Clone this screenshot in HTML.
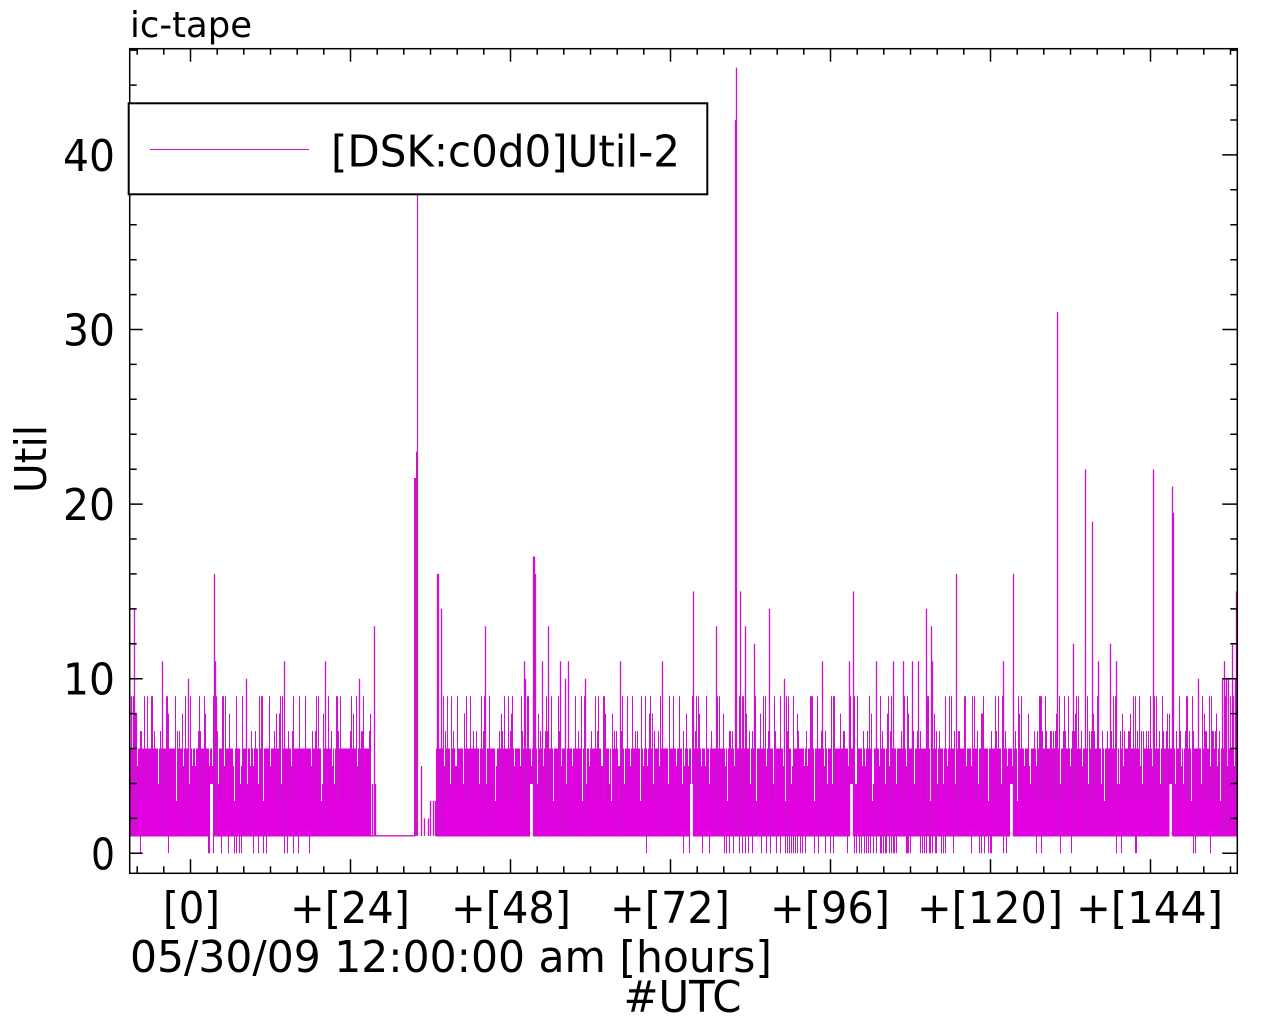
<!DOCTYPE html>
<html>
<head>
<meta charset="utf-8">
<style>
html,body{margin:0;padding:0;background:#fff;}
svg{display:block;}
text{font-family:"DejaVu Sans","Liberation Sans",sans-serif;fill:#000;}
</style>
</head>
<body>
<svg width="1280" height="1024" viewBox="0 0 1280 1024" xmlns="http://www.w3.org/2000/svg">
<rect width="1280" height="1024" fill="#fff"/>
<defs>
<pattern id="W1" patternUnits="userSpaceOnUse" x="0" y="0" width="29" height="1024">
<rect x="2" y="747" width="1" height="54" fill="#fff"/>
<rect x="9" y="747" width="1" height="19" fill="#fff"/>
<rect x="15" y="747" width="1" height="37" fill="#fff"/>
<rect x="21" y="747" width="1" height="19" fill="#fff"/>
</pattern>
<pattern id="W2" patternUnits="userSpaceOnUse" x="0" y="0" width="41" height="1024">
<rect x="4" y="747" width="1" height="19" fill="#fff"/>
<rect x="12" y="747" width="1" height="37" fill="#fff"/>
<rect x="28" y="747" width="1" height="19" fill="#fff"/>
<rect x="35" y="747" width="1" height="37" fill="#fff"/>
</pattern>
<pattern id="L1" patternUnits="userSpaceOnUse" x="0" y="0" width="23" height="1024">
<rect x="6" y="696.2" width="1" height="104.8" fill="#d010d0"/>
<rect x="16" y="731.1" width="1" height="69.9" fill="#d010d0"/>
</pattern>
<pattern id="L2" patternUnits="userSpaceOnUse" x="0" y="0" width="37" height="1024">
<rect x="3" y="696.2" width="1" height="104.8" fill="#d010d0"/>
<rect x="20" y="713.6" width="1" height="87.4" fill="#d010d0"/>
<rect x="29" y="731.1" width="1" height="69.9" fill="#d010d0"/>
</pattern>
<pattern id="L3" patternUnits="userSpaceOnUse" x="0" y="0" width="47" height="1024">
<rect x="11" y="696.2" width="1" height="104.8" fill="#d010d0"/>
<rect x="34" y="696.2" width="1" height="104.8" fill="#d010d0"/>
<rect x="41" y="713.6" width="1" height="87.4" fill="#d010d0"/>
</pattern>
<pattern id="L5" patternUnits="userSpaceOnUse" x="0" y="0" width="19" height="1024">
<rect x="8" y="731.1" width="1" height="69.9" fill="#d010d0"/>
<rect x="14" y="696.2" width="1" height="104.8" fill="#d010d0"/>
</pattern>
<pattern id="L4" patternUnits="userSpaceOnUse" x="0" y="0" width="13" height="1024">
<rect x="2" y="731.1" width="1" height="69.9" fill="#d010d0"/>
<rect x="6" y="731.1" width="1" height="69.9" fill="#d010d0"/>
<rect x="10" y="731.1" width="1" height="69.9" fill="#d010d0"/>
</pattern>
</defs>

<!-- base band -->
<rect x="130" y="748.5" width="241" height="88" fill="#e000e0"/>
<rect x="436" y="748.5" width="801" height="88" fill="#e000e0"/>

<!-- white gaps inside band -->
<rect x="130" y="740" width="241" height="70" fill="url(#W1)"/>
<rect x="130" y="740" width="241" height="70" fill="url(#W2)"/>
<rect x="436" y="740" width="801" height="70" fill="url(#W1)"/>
<rect x="436" y="740" width="801" height="70" fill="url(#W2)"/>

<!-- lines above band -->
<rect x="130" y="690" width="241" height="112" fill="url(#L1)"/>
<rect x="130" y="690" width="241" height="112" fill="url(#L2)"/>
<rect x="130" y="690" width="241" height="112" fill="url(#L3)"/>
<rect x="130" y="690" width="241" height="112" fill="url(#L5)"/>
<rect x="437" y="690" width="800" height="112" fill="url(#L1)"/>
<rect x="437" y="690" width="800" height="112" fill="url(#L2)"/>
<rect x="437" y="690" width="800" height="112" fill="url(#L3)"/>
<rect x="437" y="690" width="800" height="112" fill="url(#L5)"/>
<rect x="1035" y="690" width="202" height="112" fill="url(#L4)"/>

<!-- lines down to 0 -->
<path fill="none" stroke="#d010d0" stroke-width="1" d="M140.5 836V853.3M168.5 836V853.3M208.5 836V853.3M209.5 836V853.3M213.5 836V853.3M221.5 836V853.3M228.5 836V853.3M234.5 836V853.3M236.5 836V853.3M239.5 836V853.3M241.5 836V853.3M253.5 836V853.3M258.5 836V853.3M263.5 836V853.3M266.5 836V853.3M284.5 836V853.3M287.5 836V853.3M293.5 836V853.3M298.5 836V853.3M309.5 836V853.3
M646.5 836V853.3M683.5 836V853.3M689.5 836V853.3M702.5 836V853.3M709.5 836V853.3M724.5 836V853.3M726.5 836V853.3M729.5 836V853.3M733.5 836V853.3M739.5 836V853.3M742.5 836V853.3M745.5 836V853.3M748.5 836V853.3M752.5 836V853.3M761.5 836V853.3M766.5 836V853.3M770.5 836V853.3M776.5 836V853.3M780.5 836V853.3M785.5 836V853.3M787.5 836V853.3M789.5 836V853.3M791.5 836V853.3M793.5 836V853.3M795.5 836V853.3M797.5 836V853.3M800.5 836V853.3M802.5 836V853.3M805.5 836V853.3M814.5 836V853.3M818.5 836V853.3M825.5 836V853.3M830.5 836V853.3M833.5 836V853.3M847.5 836V853.3M854.5 836V853.3M856.5 836V853.3M859.5 836V853.3M861.5 836V853.3M864.5 836V853.3M866.5 836V853.3M868.5 836V853.3M870.5 836V853.3M873.5 836V853.3M876.5 836V853.3M880.5 836V853.3M881.5 836V853.3M883.5 836V853.3M885.5 836V853.3M886.5 836V853.3M889.5 836V853.3M891.5 836V853.3M893.5 836V853.3M894.5 836V853.3M896.5 836V853.3M906.5 836V853.3M907.5 836V853.3M908.5 836V853.3M910.5 836V853.3M920.5 836V853.3M922.5 836V853.3M924.5 836V853.3M926.5 836V853.3M929.5 836V853.3M930.5 836V853.3M932.5 836V853.3M935.5 836V853.3M936.5 836V853.3M941.5 836V853.3M943.5 836V853.3M945.5 836V853.3M953.5 836V853.3M971.5 836V853.3M979.5 836V853.3M981.5 836V853.3M984.5 836V853.3M988.5 836V853.3M990.5 836V853.3M991.5 836V853.3M1003.5 836V853.3M1006.5 836V853.3M1036.5 836V853.3M1041.5 836V853.3M1060.5 836V853.3M1071.5 836V853.3M1116.5 836V853.3M1121.5 836V853.3M1135.5 836V853.3M1136.5 836V853.3M1193.5 836V853.3M1195.5 836V853.3M1210.5 836V853.3"/>

<!-- daily gaps -->
<rect x="210" y="784" width="3" height="53" fill="#fff"/>
<rect x="371" y="784" width="1.5" height="50" fill="#fff"/>
<rect x="530" y="784" width="3" height="53" fill="#fff"/>
<rect x="690" y="784" width="3" height="53" fill="#fff"/>
<rect x="850" y="784" width="3" height="53" fill="#fff"/>
<rect x="1010" y="784" width="3" height="53" fill="#fff"/>
<rect x="1169.5" y="784" width="3" height="53" fill="#fff"/>

<!-- flat low segment -->
<path d="M371 835.8H415" stroke="#d010d0" stroke-width="1.3" fill="none"/>

<!-- region of big spike -->
<rect x="414" y="478" width="2" height="358" fill="#d010d0"/>
<rect x="416" y="451.7" width="1.3" height="384" fill="#c818c8"/>
<path d="M417.5 836V190" stroke="#c020c0" stroke-width="1.2" fill="none"/>

<!-- explicit spikes -->
<path fill="none" stroke="#d010d0" stroke-width="1.3" d="M131.5 836V696.2M133.5 836V696.2M134.5 836V608.9M136.5 836V713.6
M162.5 836V661.2M188.5 836V678.7M214.5 836V573.9M215.5 836V661.2M216.5 836V696.2
M246.5 836V678.7M284.5 836V661.2M325.5 836V661.2M359.5 836V678.7
M372.5 836V784M374.5 836V626.3M375.5 836V784
M421.5 836V766M424.5 836V818.4M428.5 836V818.4M430.5 836V801M433.5 836V801M435.5 836V801
M437.5 836V573.9M438.5 836V573.9M441.5 836V608.9M485.5 836V626.3
M524.5 836V661.2M525.5 836V678.7M533.5 836V556.5M534.5 836V556.5M535.5 836V573.9
M542.5 836V661.2M548.5 836V626.3M560.5 836V661.2M565.5 836V678.7M568.5 836V661.2M585.5 836V678.7M620.5 836V661.2M662.5 836V661.2
M693.5 836V591.4M716.5 836V626.3M735.5 836V120M736.5 836V67.6M740.5 836V591.4M745.5 836V626.3M754.5 836V643.8M769.5 836V608.9M784.5 836V678.7
M822.5 836V661.2M849.5 836V661.2M853.5 836V591.4M876.5 836V661.2M893.5 836V661.2M903.5 836V661.2M912.5 836V661.2M918.5 836V661.2
M926.5 836V608.9M931.5 836V626.3M932.5 836V661.2M956.5 836V573.9M1003.5 836V661.2M1013.5 836V573.9
M1057.5 836V312M1073.5 836V643.8M1085.5 836V469.2M1092.5 836V521.6M1098.5 836V661.2M1110.5 836V643.8M1116.5 836V661.2
M1153.5 836V469.2M1172.5 836V486.6M1173.5 836V512.8M1198.5 836V678.7M1222.5 836V678.7M1224.5 836V661.2M1226.5 836V678.7M1228.5 836V678.7M1232.5 836V643.8M1235.5 836V678.7M1236.5 836V591.4"/>

<!-- frame -->
<rect x="129.7" y="48.7" width="1107.6" height="824.6" fill="none" stroke="#000" stroke-width="1.5"/>

<!-- y ticks left & right -->
<path fill="none" stroke="#000" stroke-width="1.5" d="
M129.7 853.3h13M129.7 678.7h13M129.7 504.1h13M129.7 329.5h13M129.7 154.9h13
M129.7 818.4h7M129.7 783.5h7M129.7 748.5h7M129.7 713.6h7M129.7 643.8h7M129.7 608.9h7M129.7 573.9h7M129.7 539h7M129.7 469.2h7M129.7 434.3h7M129.7 399.3h7M129.7 364.4h7M129.7 294.6h7M129.7 259.7h7M129.7 224.7h7M129.7 189.8h7M129.7 120h7M129.7 85.1h7M129.7 50.1h7
M1237.3 853.3h-15M1237.3 678.7h-15M1237.3 504.1h-15M1237.3 329.5h-15M1237.3 154.9h-15
M1237.3 818.4h-7M1237.3 783.5h-7M1237.3 748.5h-7M1237.3 713.6h-7M1237.3 643.8h-7M1237.3 608.9h-7M1237.3 573.9h-7M1237.3 539h-7M1237.3 469.2h-7M1237.3 434.3h-7M1237.3 399.3h-7M1237.3 364.4h-7M1237.3 294.6h-7M1237.3 259.7h-7M1237.3 224.7h-7M1237.3 189.8h-7M1237.3 120h-7M1237.3 85.1h-7M1237.3 50.1h-7"/>

<!-- x ticks bottom & top -->
<path fill="none" stroke="#000" stroke-width="1.5" d="
M190.5 873.3v-14M350.5 873.3v-14M510.5 873.3v-14M670.5 873.3v-14M830.5 873.3v-14M990.5 873.3v-14M1150.5 873.3v-14
M137.2 873.3v-7M163.8 873.3v-7M217.2 873.3v-7M243.8 873.3v-7M270.5 873.3v-7M297.2 873.3v-7M323.8 873.3v-7M377.2 873.3v-7M403.8 873.3v-7M430.5 873.3v-7M457.2 873.3v-7M483.8 873.3v-7M537.2 873.3v-7M563.8 873.3v-7M590.5 873.3v-7M617.2 873.3v-7M643.8 873.3v-7M697.2 873.3v-7M723.8 873.3v-7M750.5 873.3v-7M777.2 873.3v-7M803.8 873.3v-7M857.2 873.3v-7M883.8 873.3v-7M910.5 873.3v-7M937.2 873.3v-7M963.8 873.3v-7M1017.2 873.3v-7M1043.8 873.3v-7M1070.5 873.3v-7M1097.2 873.3v-7M1123.8 873.3v-7M1177.2 873.3v-7M1203.8 873.3v-7M1230.5 873.3v-7
M190.5 48.7v13M350.5 48.7v13M510.5 48.7v13M670.5 48.7v13M830.5 48.7v13M990.5 48.7v13M1150.5 48.7v13
M137.2 48.7v6M163.8 48.7v6M217.2 48.7v6M243.8 48.7v6M270.5 48.7v6M297.2 48.7v6M323.8 48.7v6M377.2 48.7v6M403.8 48.7v6M430.5 48.7v6M457.2 48.7v6M483.8 48.7v6M537.2 48.7v6M563.8 48.7v6M590.5 48.7v6M617.2 48.7v6M643.8 48.7v6M697.2 48.7v6M723.8 48.7v6M750.5 48.7v6M777.2 48.7v6M803.8 48.7v6M857.2 48.7v6M883.8 48.7v6M910.5 48.7v6M937.2 48.7v6M963.8 48.7v6M1017.2 48.7v6M1043.8 48.7v6M1070.5 48.7v6M1097.2 48.7v6M1123.8 48.7v6M1177.2 48.7v6M1203.8 48.7v6M1230.5 48.7v6"/>

<!-- legend -->
<rect x="128.7" y="103.3" width="578.6" height="91" fill="#fff" stroke="#000" stroke-width="2"/>
<line x1="150" y1="149.5" x2="309" y2="149.5" stroke="#d010d0" stroke-width="1"/>
<text x="331" y="166.7" font-size="44" textLength="349" lengthAdjust="spacingAndGlyphs">[DSK:c0d0]Util-2</text>

<!-- title -->
<text x="130" y="37" font-size="36" textLength="122" lengthAdjust="spacingAndGlyphs">ic-tape</text>

<!-- y tick labels -->
<text x="115" y="869.3" font-size="44" text-anchor="end" textLength="24" lengthAdjust="spacingAndGlyphs">0</text>
<text x="115" y="694.7" font-size="44" text-anchor="end" textLength="52" lengthAdjust="spacingAndGlyphs">10</text>
<text x="115" y="520.1" font-size="44" text-anchor="end" textLength="52" lengthAdjust="spacingAndGlyphs">20</text>
<text x="115" y="345.5" font-size="44" text-anchor="end" textLength="52" lengthAdjust="spacingAndGlyphs">30</text>
<text x="115" y="171" font-size="44" text-anchor="end" textLength="52" lengthAdjust="spacingAndGlyphs">40</text>

<!-- x tick labels -->
<text x="191.5" y="923" font-size="44" text-anchor="middle" textLength="57" lengthAdjust="spacingAndGlyphs">[0]</text>
<text x="350" y="923" font-size="44" text-anchor="middle" textLength="120" lengthAdjust="spacingAndGlyphs">+[24]</text>
<text x="511" y="923" font-size="44" text-anchor="middle" textLength="120" lengthAdjust="spacingAndGlyphs">+[48]</text>
<text x="670" y="923" font-size="44" text-anchor="middle" textLength="120" lengthAdjust="spacingAndGlyphs">+[72]</text>
<text x="830" y="923" font-size="44" text-anchor="middle" textLength="120" lengthAdjust="spacingAndGlyphs">+[96]</text>
<text x="990" y="923" font-size="44" text-anchor="middle" textLength="146" lengthAdjust="spacingAndGlyphs">+[120]</text>
<text x="1149.5" y="923" font-size="44" text-anchor="middle" textLength="147" lengthAdjust="spacingAndGlyphs">+[144]</text>

<!-- x axis labels -->
<text x="130" y="972" font-size="44" textLength="642" lengthAdjust="spacingAndGlyphs">05/30/09 12:00:00 am [hours]</text>
<text x="682.5" y="1012" font-size="44" text-anchor="middle" textLength="118" lengthAdjust="spacingAndGlyphs">#UTC</text>

<!-- y axis label -->
<text transform="translate(46,459) rotate(-90)" font-size="44" text-anchor="middle" textLength="68" lengthAdjust="spacingAndGlyphs">Util</text>
</svg>
</body>
</html>
